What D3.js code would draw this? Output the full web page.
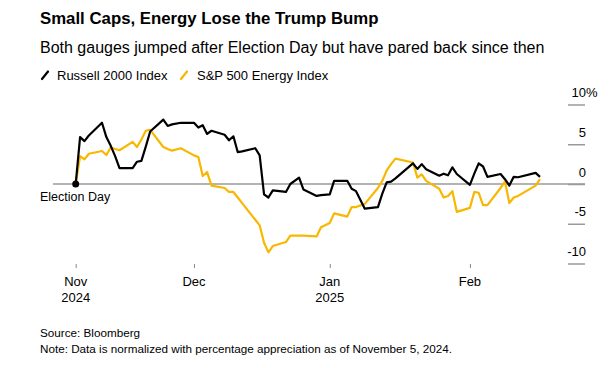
<!DOCTYPE html>
<html>
<head>
<meta charset="utf-8">
<script src="https://cdn.jsdelivr.net/npm/d3@7"></script>
<style>
  html, body { margin: 0; padding: 0; background: #fff; }
  svg { display: block; font-family: "Liberation Sans", Arial, sans-serif; }
</style>
</head>
<body>
<svg id="chart" width="611" height="368"></svg>
<script>
// ---- data ----
const dates = [
  "2024-11-05","2024-11-06","2024-11-07","2024-11-08","2024-11-11","2024-11-12","2024-11-13","2024-11-14","2024-11-15",
  "2024-11-18","2024-11-19","2024-11-20","2024-11-21","2024-11-22","2024-11-25","2024-11-26","2024-11-27","2024-11-29",
  "2024-12-02","2024-12-03","2024-12-04","2024-12-05","2024-12-06","2024-12-09","2024-12-10","2024-12-11","2024-12-12","2024-12-13",
  "2024-12-16","2024-12-17","2024-12-18","2024-12-19","2024-12-20","2024-12-23","2024-12-24","2024-12-26","2024-12-27",
  "2024-12-30","2024-12-31","2025-01-02","2025-01-03","2025-01-06","2025-01-07","2025-01-08","2025-01-10",
  "2025-01-13","2025-01-14","2025-01-15","2025-01-16","2025-01-17","2025-01-21","2025-01-22","2025-01-23","2025-01-24",
  "2025-01-27","2025-01-28","2025-01-29","2025-01-30","2025-01-31","2025-02-03","2025-02-04","2025-02-05","2025-02-06","2025-02-07",
  "2025-02-10","2025-02-11","2025-02-12","2025-02-13","2025-02-14","2025-02-18","2025-02-19"
];
const russell2000 = [
  0, 5.9, 5.4, 6.1, 7.7, 5.9, 4.8, 3.5, 2.0,
  2.0, 2.8, 2.9, 4.7, 6.6, 8.1, 7.3, 7.5, 7.7,
  7.7, 7.1, 7.4, 6.3, 6.7, 6.2, 5.5, 6.0, 4.0, 4.1,
  4.5, 3.6, -1.3, -1.7, -0.8, -1.0, 0.0, 0.8, -0.7,
  -1.5, -1.4, -1.3, 0.4, 0.4, -0.6, -0.9, -3.1,
  -2.9, -1.2, 0.2, 0.3, 0.7, 2.6, 1.9, 2.5, 1.85,
  1.05, 1.3, 1.1, 2.1, 1.26, -0.1, 1.3, 2.6, 2.2, 0.9,
  1.26, 0.6, -0.2, 0.9, 0.85, 1.4, 0.9
];
const spEnergy = [
  0, 3.5, 3.1, 3.8, 4.15, 3.65, 4.6, 4.4, 4.25,
  5.3, 4.65, 5.6, 6.7, 6.8, 4.65, 4.4, 4.2, 4.5,
  3.6, 3.4, 1.0, 1.5, -0.2, -0.5, -1.0, -1.0, -1.7, -2.4,
  -4.5, -5.2, -7.4, -8.6, -7.8, -7.3, -6.5, -6.5, -6.5,
  -6.6, -5.45, -4.9, -3.7, -4.1, -2.9, -2.9, -2.5,
  -0.5, 0.4, 1.7, 2.5, 3.2, 2.7, 0.8, 1.2, 0.4,
  -0.6, -1.7, -1.5, -0.9, -3.5, -3.0, -1.0, -1.1, -2.65, -2.65,
  -0.5, 0.3, -2.4, -1.7, -1.5, -0.2, 0.6
];
const seriesNames = ["Russell 2000 Index", "S&P 500 Energy Index"];
const yTicks = [10, 5, 0, -5, -10];
const xTickDates = ["2024-11-05", "2024-12-02", "2025-01-02", "2025-02-03"];
const xTickLabels = [["Nov", "2024"], ["Dec", ""], ["Jan", "2025"], ["Feb", ""]];

// ---- setup ----
const parse = d3.utcParse("%Y-%m-%d");
const svg = d3.select("#chart");
const BLACK = "#000000", YELLOW = "#f8b700", GRID = "#9a9a9a", TEXT = "#000";

const x = d3.scaleUtc()
  .domain([parse("2024-11-05"), parse("2025-02-19")])
  .range([75.7, 540]);
const y = d3.scaleLinear().domain([-10, 10]).range([263.5, 104.5]);

// ---- titles ----
svg.append("text").attr("x", 40).attr("y", 24)
  .attr("font-size", 16.8).attr("font-weight", "bold").attr("fill", TEXT)
  .text("Small Caps, Energy Lose the Trump Bump");
svg.append("text").attr("x", 40).attr("y", 53)
  .attr("font-size", 16).attr("fill", TEXT)
  .text("Both gauges jumped after Election Day but have pared back since then");

// legend
const leg = svg.append("g");
const legItems = [
  { name: seriesNames[0], color: BLACK, sx: 42, tx: 57 },
  { name: seriesNames[1], color: YELLOW, sx: 181, tx: 197 }
];
legItems.forEach(it => {
  leg.append("line").attr("x1", it.sx).attr("y1", 79).attr("x2", it.sx + 6).attr("y2", 71.5)
    .attr("stroke", it.color).attr("stroke-width", 2.2).attr("stroke-linecap", "round");
  leg.append("text").attr("x", it.tx).attr("y", 79.5).attr("font-size", 13).attr("fill", TEXT)
    .text(it.name);
});

// ---- y axis (right) ----
const yAxis = d3.axisRight(y).tickValues(yTicks).tickSize(17).tickFormat("");
const yg = svg.append("g").attr("transform", "translate(568,0)").call(yAxis);
yg.select(".domain").remove();
yg.selectAll(".tick line").attr("stroke", GRID).attr("stroke-width", 1.5);
yTicks.forEach(v => {
  svg.append("text").attr("x", 586).attr("y", y(v) - 7.5)
    .attr("text-anchor", "end").attr("font-size", 13).attr("fill", TEXT)
    .text(v);
  if (v === 10) {
    svg.append("text").attr("x", 586).attr("y", y(v) - 7.5)
      .attr("font-size", 13).attr("fill", TEXT).text("%");
  }
});

// zero line
svg.append("line").attr("x1", 53).attr("x2", 585).attr("y1", y(0)).attr("y2", y(0))
  .attr("stroke", GRID).attr("stroke-width", 1.5);

// ---- x axis ----
const xAxis = d3.axisBottom(x).tickValues(xTickDates.map(parse)).tickSize(4).tickFormat("");
const xg = svg.append("g").attr("transform", "translate(0,264)").call(xAxis);
xg.select(".domain").remove();
xg.selectAll(".tick line").attr("stroke", "#888").attr("stroke-width", 1);
xTickDates.forEach((d, i) => {
  const px = x(parse(d));
  svg.append("text").attr("x", px).attr("y", 286).attr("text-anchor", "middle")
    .attr("font-size", 13).attr("fill", TEXT).text(xTickLabels[i][0]);
  if (xTickLabels[i][1]) {
    svg.append("text").attr("x", px).attr("y", 302).attr("text-anchor", "middle")
      .attr("font-size", 13).attr("fill", TEXT).text(xTickLabels[i][1]);
  }
});

// ---- lines ----
const line = d3.line().x(d => x(d.date)).y(d => y(d.v));
const mk = arr => dates.map((d, i) => ({ date: parse(d), v: arr[i] }));
svg.append("path").datum(mk(spEnergy)).attr("d", line)
  .attr("fill", "none").attr("stroke", YELLOW).attr("stroke-width", 2.2).attr("stroke-linejoin", "round");
svg.append("path").datum(mk(russell2000)).attr("d", line)
  .attr("fill", "none").attr("stroke", BLACK).attr("stroke-width", 2.2).attr("stroke-linejoin", "round");

// election day marker
svg.append("circle").attr("cx", x(parse(dates[0]))).attr("cy", y(russell2000[0])).attr("r", 3.5).attr("fill", BLACK);
svg.append("text").attr("x", 40).attr("y", 201).attr("font-size", 12.5).attr("fill", TEXT).text("Election Day");

// ---- footer ----
svg.append("text").attr("x", 40).attr("y", 337).attr("font-size", 11.7).attr("fill", TEXT).text("Source: Bloomberg");
svg.append("text").attr("x", 40).attr("y", 353).attr("font-size", 11.7).attr("fill", TEXT)
  .text("Note: Data is normalized with percentage appreciation as of November 5, 2024.");
</script>
</body>
</html>
